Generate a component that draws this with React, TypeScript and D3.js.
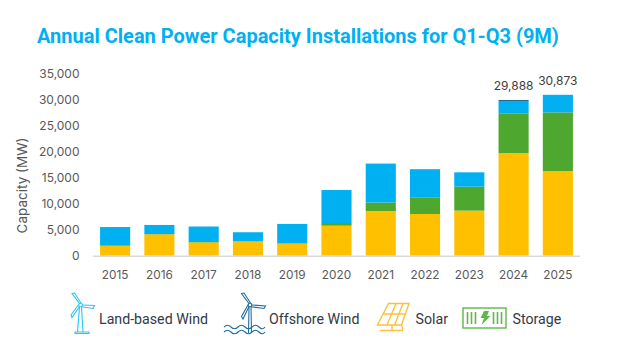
import React from "react";
import * as d3 from "d3";

const years = ["2015","2016","2017","2018","2019","2020","2021","2022","2023","2024","2025"];
const solar = [1860,4100,2550,2750,2300,5760,8580,8000,8650,19700,16250];
const storage = [60,60,80,70,60,510,1620,3200,4600,7550,11250];
const landWind = [3580,1740,2970,1680,3740,6330,7440,5400,2750,2450,3373];
const offshoreWind = [0,0,0,0,0,0,30,0,0,188,0];
const yTicks = [0,5000,10000,15000,20000,25000,30000,35000];
const totalLabels: Record<string,string> = { "2024": "29,888", "2025": "30,873" };

const keys = ["solar","storage","landWind","offshoreWind"];
const colors: Record<string,string> = { solar:"#FFC000", storage:"#4EA72E", landWind:"#00B0F0", offshoreWind:"#156082" };
const rows = years.map((y,i)=>({year:y,solar:solar[i],storage:storage[i],landWind:landWind[i],offshoreWind:offshoreWind[i]}));

const FONT = "Inter, Roboto, sans-serif";
const x = d3.scaleBand<string>().domain(years).range([93,580]).paddingInner(0.32).paddingOuter(0.16);
const y = d3.scaleLinear().domain([0,35000]).range([255.7,73.3]);
const stack = d3.stack<any>().keys(keys)(rows);
const fmt = d3.format(",");

function LandIcon() {
  const c = "#2CC4F4";
  return (
    <g fill="none" stroke={c} strokeWidth={1.1}>
      <circle cx={20.5} cy={25} r={1.8}/>
      <path d="M19.5 23.5L12 13.5L14.5 13L21 23M22.3 25L34.5 25.5L33 28.5L21.5 26.7M19.5 26.5L12 37.5L11 35L18.7 24.5"/>
      <path d="M19.5 27L17.5 52M21.5 27L23 52"/>
      <path d="M15 52H29V53.5H15Z"/>
    </g>
  );
}
function OffshoreIcon() {
  const c="#1F6FA0";
  return (
    <g fill="none" stroke={c} strokeWidth={1.1}>
      <circle cx={26} cy={25} r={1.8}/>
      <path d="M25 23.5L17.5 13.5L20 13L26.5 23M27.8 25L41.5 26L40 28.5L27 26.7M25 26.5L19 39L17.5 36.5L24.2 24.5"/>
      <path d="M25 27L24.5 53M27 27L27.5 53"/>
      <path d="M0 47Q3.5 43.5 7 47T14 47T21 47T28 47T35 47T41 47" />
      <path d="M0 52Q3.5 48.5 7 52T14 52T21 52T28 52T35 52T41 52" />
    </g>
  );
}
function SolarIcon() {
  return (
    <g fill="none" stroke="#FFC13B" strokeWidth={1.4}>
      <path d="M11.5 0.5H32L24.5 22H0.5Z"/>
      <path d="M6 11H28M19 0.5L10 22M26 0.5L17.5 22"/>
      <path d="M15 22V27M3 27.5H26" />
      <path d="M24.5 22L26 27"/>
    </g>
  );
}
function StorageIcon() {
  return (
    <g>
      <rect x={1} y={1} width={43} height={20} fill="none" stroke="#5DB84B" strokeWidth={1.4}/>
      <g stroke="#5DB84B" strokeWidth={1.6}>
        <path d="M5.5 5V17M9.5 5V17M13.5 5V17M31.5 5V17M35.5 5V17M39.5 5V17"/>
      </g>
      <path d="M22 4H27L25 9H28.5L19.5 18L22 11H18.5Z" fill="#5DB84B"/>
    </g>
  );
}

export default function App() {
  return (
    <svg width={623} height={358} style={{position:"absolute",left:0,top:0,background:"#fff"}} fontFamily={FONT}>
      <text x={37} y={43} fontSize={20} fontWeight={700} fontFamily="Roboto, sans-serif" fill="#00B0F0">Annual Clean Power Capacity Installations for Q1-Q3 (9M)</text>

      {yTicks.map(t=>(
        <text key={t} x={79.5} y={y(t)} dy="0.36em" textAnchor="end" fontSize={12} fill="#595959">{fmt(t)}</text>
      ))}
      <text transform="translate(23,185.5) rotate(-90)" textAnchor="middle" dominantBaseline="middle" fontSize={13.5} fill="#595959">Capacity (MW)</text>

      {stack.map(s=>(
        <g key={s.key} fill={colors[s.key]}>
          {s.map((d,i)=> d[1]>d[0] ? (
            <rect key={i} x={x(years[i])} width={x.bandwidth()} y={y(d[1])} height={y(d[0])-y(d[1])}/>
          ):null)}
        </g>
      ))}

      <line x1={93} x2={580} y1={y(0)+0.5} y2={y(0)+0.5} stroke="#D9D9D9" strokeWidth={1.5}/>

      {years.map(t=>(
        <text key={t} x={x(t)!+x.bandwidth()/2} y={274.5} dy="0.36em" textAnchor="middle" fontSize={11.8} fill="#595959">{t}</text>
      ))}
      {years.filter(t=>totalLabels[t]).map(t=>{
        const i=years.indexOf(t);
        const total=solar[i]+storage[i]+landWind[i]+offshoreWind[i];
        return <text key={t} x={x(t)!+x.bandwidth()/2} y={y(total)-9.5} textAnchor="middle" fontSize={12} fill="#404040">{totalLabels[t]}</text>;
      })}

      <g transform="translate(60,280)"><LandIcon/></g>
      <g transform="translate(224,280)"><OffshoreIcon/></g>
      <g transform="translate(377,303)"><SolarIcon/></g>
      <g transform="translate(462,307)"><StorageIcon/></g>
      <g fontSize={14.2} fontFamily="Roboto, sans-serif" fill="#333A45">
        <text x={99} y={324}>Land-based Wind</text>
        <text x={269} y={324}>Offshore Wind</text>
        <text x={415.5} y={324}>Solar</text>
        <text x={512.5} y={324}>Storage</text>
      </g>
    </svg>
  );
}
